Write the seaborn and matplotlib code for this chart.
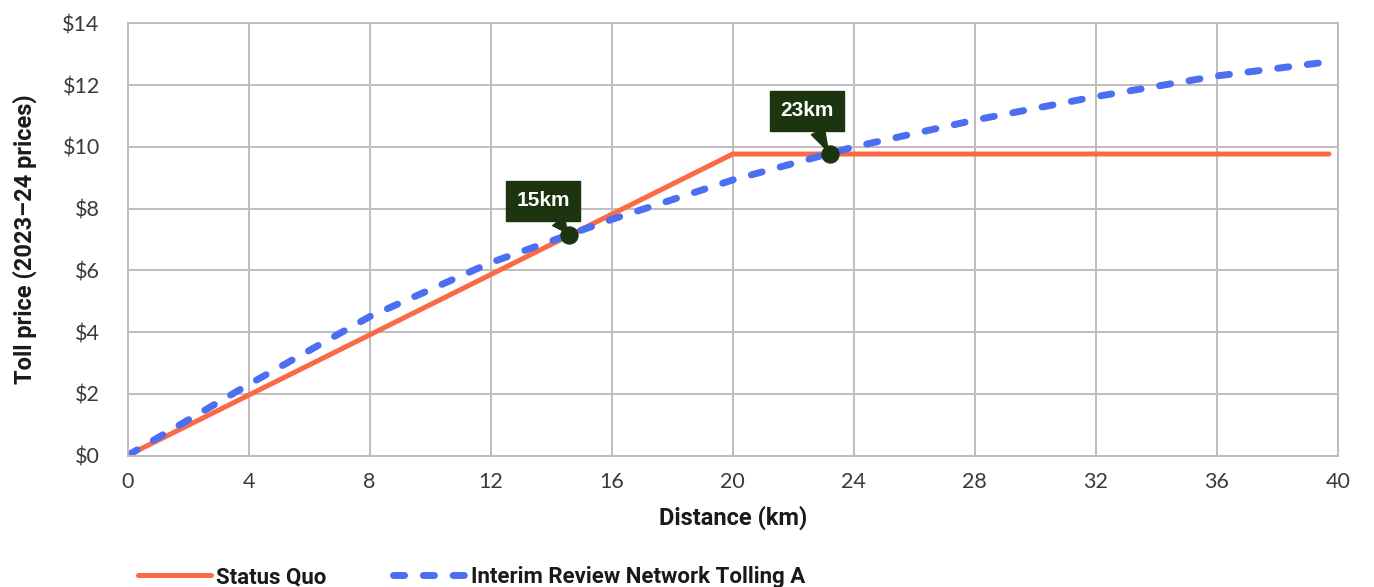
import matplotlib
matplotlib.use("Agg")
import matplotlib.pyplot as plt
import seaborn as sns
import pandas as pd

# Toll price by trip distance (2023-24 prices)
distance_status_quo = [0, 20, 39.7]
price_status_quo = [0, 9.77, 9.77]

distance_network = [0, 4, 8, 12, 16, 20, 24, 28, 32, 36, 39.7]
price_network = [0, 2.3, 4.5, 6.25, 7.65, 8.93, 10.0, 10.87, 11.63, 12.3, 12.76]

# Break-even distances where the two schemes cost the same
crossover_km = [14.6, 23.2]
crossover_price = [7.13, 9.77]
crossover_labels = ["15km", "23km"]

x_ticks = [0, 4, 8, 12, 16, 20, 24, 28, 32, 36, 40]
y_ticks = [0, 2, 4, 6, 8, 10, 12, 14]

ORANGE = "#fb6a45"
BLUE = "#4c6ef0"
DARK = "#1c3510"
GRID = "#bdbdbd"
TEXT = "#3a3a3a"

sns.set_theme(style="whitegrid")
plt.rcParams["font.family"] = ["Lato", "DejaVu Sans"]
narrow = ["Roboto", "DejaVu Sans"]

fig = plt.figure(figsize=(13.74, 5.87), dpi=100)
ax = fig.add_axes([0.0928, 0.224, 0.8810, 0.736])

df_sq = pd.DataFrame({"Distance": distance_status_quo, "Price": price_status_quo})
df_nt = pd.DataFrame({"Distance": distance_network, "Price": price_network})

sns.lineplot(data=df_sq, x="Distance", y="Price", ax=ax, color=ORANGE,
             linewidth=3.6, label="Status Quo")
sns.lineplot(data=df_nt, x="Distance", y="Price", ax=ax, color=BLUE,
             linewidth=5, label="Interim Review Network Tolling A",
             dashes=False)
net_line = ax.lines[-1]
net_line.set_dashes((1.6, 2.7))
net_line.set_dash_capstyle("round")
net_line.set_solid_capstyle("round")

sns.scatterplot(x=crossover_km, y=crossover_price, ax=ax, color=DARK,
                s=150, edgecolor=DARK, zorder=5, legend=False)

offsets = [(-19, 25), (-16, 31)]
for km, price, lab, off in zip(crossover_km, crossover_price, crossover_labels, offsets):
    ax.annotate(lab, xy=(km, price), xytext=off, textcoords="offset points",
                ha="center", va="center", color="white", fontsize=15,
                fontweight="bold", family=["Liberation Sans", "DejaVu Sans"],
                bbox=dict(boxstyle="square,pad=0.5", fc=DARK, ec=DARK),
                arrowprops=dict(arrowstyle="wedge,tail_width=0.7,shrink_factor=0.5",
                                color=DARK, shrinkA=0, shrinkB=2),
                zorder=6)

ax.set_xlim(0, 40)
ax.set_ylim(0, 14)
ax.set_xticks(x_ticks)
ax.set_yticks(y_ticks)
ax.set_xticklabels([str(v) for v in x_ticks])
ax.set_yticklabels([f"${v}" for v in y_ticks])
ax.tick_params(axis="both", length=0, labelsize=15.5, labelcolor=TEXT)
ax.tick_params(axis="x", pad=12)
ax.tick_params(axis="y", pad=20)

ax.grid(True, color=GRID, linewidth=1.4)
for sp in ax.spines.values():
    sp.set_visible(True)
    sp.set_color(GRID)
    sp.set_linewidth(1.4)

ax.set_xlabel("Distance (km)", fontsize=17, fontweight="bold", family=narrow,
              color="#1a1a1a", labelpad=10)
ax.set_ylabel("Toll price (2023\u201324 prices)", fontsize=17, fontweight="bold",
              family=narrow, color="#1a1a1a", labelpad=8)
ax.yaxis.set_label_coords(-0.075, 0.5)

ax.get_legend().remove()
handles, labels = ax.get_legend_handles_labels()
leg = fig.legend(handles, labels, loc="lower left", bbox_to_anchor=(0.086, -0.036),
                 ncol=2, frameon=False, handlelength=3.3, handletextpad=0.2,
                 columnspacing=3.0, prop={"family": narrow, "weight": "bold", "size": 16})
for t in leg.get_texts():
    t.set_color("#1a1a1a")

fig.savefig("out.png", dpi=100)
